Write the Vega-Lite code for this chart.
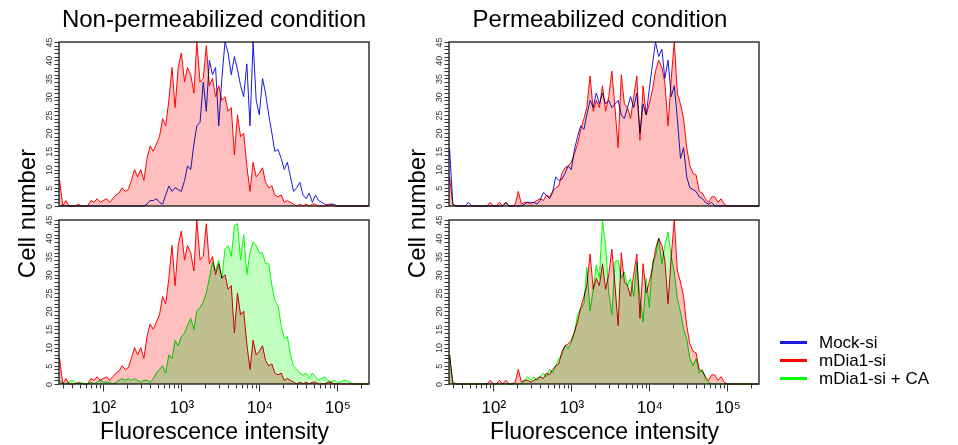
{
"$schema": "https://vega.github.io/schema/vega-lite/v6.json",
"padding": {"left": 14, "top": 7, "right": 0, "bottom": 0},
"datasets": {
"np": [
{"x":27.5,"Mock-si":0,"mDia1-si":7,"mDia1-si + CA":1},
{"x":30.2,"Mock-si":0,"mDia1-si":0,"mDia1-si + CA":0},
{"x":33.1,"Mock-si":0,"mDia1-si":1.5,"mDia1-si + CA":0},
{"x":36.3,"Mock-si":0,"mDia1-si":0,"mDia1-si + CA":0.5},
{"x":39.8,"Mock-si":0,"mDia1-si":0,"mDia1-si + CA":1},
{"x":43.7,"Mock-si":0,"mDia1-si":0,"mDia1-si + CA":0.5},
{"x":47.9,"Mock-si":0,"mDia1-si":0.5,"mDia1-si + CA":0},
{"x":52.5,"Mock-si":0,"mDia1-si":0,"mDia1-si + CA":0.5},
{"x":57.5,"Mock-si":0,"mDia1-si":0,"mDia1-si + CA":0},
{"x":63.1,"Mock-si":0,"mDia1-si":0,"mDia1-si + CA":0},
{"x":69.2,"Mock-si":0,"mDia1-si":1.5,"mDia1-si + CA":0.5},
{"x":75.9,"Mock-si":0,"mDia1-si":1,"mDia1-si + CA":0},
{"x":83.2,"Mock-si":0,"mDia1-si":2,"mDia1-si + CA":0.5},
{"x":91.2,"Mock-si":0,"mDia1-si":1,"mDia1-si + CA":1},
{"x":100,"Mock-si":0,"mDia1-si":1.5,"mDia1-si + CA":0.5},
{"x":110,"Mock-si":0,"mDia1-si":2,"mDia1-si + CA":0.5},
{"x":120,"Mock-si":0,"mDia1-si":1,"mDia1-si + CA":0.5},
{"x":132,"Mock-si":0,"mDia1-si":2,"mDia1-si + CA":0},
{"x":145,"Mock-si":0,"mDia1-si":3,"mDia1-si + CA":0.5},
{"x":158,"Mock-si":0,"mDia1-si":3.5,"mDia1-si + CA":1},
{"x":174,"Mock-si":0,"mDia1-si":5,"mDia1-si + CA":1.5},
{"x":191,"Mock-si":0,"mDia1-si":4,"mDia1-si + CA":1},
{"x":209,"Mock-si":0,"mDia1-si":4.5,"mDia1-si + CA":1.5},
{"x":229,"Mock-si":0,"mDia1-si":7,"mDia1-si + CA":1},
{"x":251,"Mock-si":0,"mDia1-si":10,"mDia1-si + CA":1.5},
{"x":275,"Mock-si":0,"mDia1-si":8,"mDia1-si + CA":1},
{"x":302,"Mock-si":0,"mDia1-si":10,"mDia1-si + CA":0.5},
{"x":331,"Mock-si":0,"mDia1-si":7,"mDia1-si + CA":1},
{"x":363,"Mock-si":0.5,"mDia1-si":13,"mDia1-si + CA":1},
{"x":398,"Mock-si":1.5,"mDia1-si":16.5,"mDia1-si + CA":0.5},
{"x":437,"Mock-si":1.5,"mDia1-si":15,"mDia1-si + CA":1.5},
{"x":479,"Mock-si":2,"mDia1-si":17,"mDia1-si + CA":3},
{"x":525,"Mock-si":1,"mDia1-si":19,"mDia1-si + CA":4},
{"x":575,"Mock-si":0.5,"mDia1-si":24,"mDia1-si + CA":5},
{"x":631,"Mock-si":3,"mDia1-si":22,"mDia1-si + CA":3},
{"x":692,"Mock-si":5.5,"mDia1-si":29,"mDia1-si + CA":8},
{"x":759,"Mock-si":4,"mDia1-si":38,"mDia1-si + CA":7},
{"x":832,"Mock-si":5,"mDia1-si":27,"mDia1-si + CA":12},
{"x":912,"Mock-si":4.5,"mDia1-si":38,"mDia1-si + CA":10.5},
{"x":1000,"Mock-si":4,"mDia1-si":42,"mDia1-si + CA":13},
{"x":1100,"Mock-si":7,"mDia1-si":34,"mDia1-si + CA":14},
{"x":1200,"Mock-si":11,"mDia1-si":38,"mDia1-si + CA":16},
{"x":1320,"Mock-si":10,"mDia1-si":36,"mDia1-si + CA":18},
{"x":1450,"Mock-si":17,"mDia1-si":31,"mDia1-si + CA":15},
{"x":1580,"Mock-si":22,"mDia1-si":45,"mDia1-si + CA":20},
{"x":1740,"Mock-si":23,"mDia1-si":34,"mDia1-si + CA":21},
{"x":1910,"Mock-si":34,"mDia1-si":35,"mDia1-si + CA":22.5},
{"x":2090,"Mock-si":26,"mDia1-si":44,"mDia1-si + CA":25},
{"x":2290,"Mock-si":40,"mDia1-si":33,"mDia1-si + CA":29},
{"x":2510,"Mock-si":36,"mDia1-si":35,"mDia1-si + CA":33.5},
{"x":2750,"Mock-si":38,"mDia1-si":30,"mDia1-si + CA":31},
{"x":3020,"Mock-si":22,"mDia1-si":33,"mDia1-si + CA":34},
{"x":3310,"Mock-si":35,"mDia1-si":29,"mDia1-si + CA":29},
{"x":3630,"Mock-si":45,"mDia1-si":30,"mDia1-si + CA":37},
{"x":3980,"Mock-si":42,"mDia1-si":26,"mDia1-si + CA":38},
{"x":4370,"Mock-si":36,"mDia1-si":27,"mDia1-si + CA":35},
{"x":4790,"Mock-si":41,"mDia1-si":14,"mDia1-si + CA":43.5},
{"x":5250,"Mock-si":37.5,"mDia1-si":25,"mDia1-si + CA":44},
{"x":5750,"Mock-si":33,"mDia1-si":19,"mDia1-si + CA":34},
{"x":6310,"Mock-si":30,"mDia1-si":20,"mDia1-si + CA":41},
{"x":6920,"Mock-si":39,"mDia1-si":11,"mDia1-si + CA":30},
{"x":7590,"Mock-si":22,"mDia1-si":4,"mDia1-si + CA":36},
{"x":8320,"Mock-si":45,"mDia1-si":12,"mDia1-si + CA":39},
{"x":9120,"Mock-si":29,"mDia1-si":8,"mDia1-si + CA":38},
{"x":10000,"Mock-si":25,"mDia1-si":9,"mDia1-si + CA":36},
{"x":11000,"Mock-si":35,"mDia1-si":10.5,"mDia1-si + CA":36},
{"x":12000,"Mock-si":31,"mDia1-si":6.5,"mDia1-si + CA":33},
{"x":13200,"Mock-si":25,"mDia1-si":5,"mDia1-si + CA":33},
{"x":14500,"Mock-si":20,"mDia1-si":5.5,"mDia1-si + CA":27},
{"x":15800,"Mock-si":15,"mDia1-si":3,"mDia1-si + CA":23},
{"x":17400,"Mock-si":15.5,"mDia1-si":2.5,"mDia1-si + CA":21.5},
{"x":19100,"Mock-si":13,"mDia1-si":3,"mDia1-si + CA":16},
{"x":20900,"Mock-si":10,"mDia1-si":1,"mDia1-si + CA":12.5},
{"x":22900,"Mock-si":12,"mDia1-si":1.5,"mDia1-si + CA":13},
{"x":25100,"Mock-si":8,"mDia1-si":1,"mDia1-si + CA":8},
{"x":27500,"Mock-si":4,"mDia1-si":0.5,"mDia1-si + CA":5},
{"x":30200,"Mock-si":5,"mDia1-si":0,"mDia1-si + CA":4},
{"x":33100,"Mock-si":6.5,"mDia1-si":0.5,"mDia1-si + CA":3},
{"x":36300,"Mock-si":3,"mDia1-si":0,"mDia1-si + CA":2.4},
{"x":39800,"Mock-si":2,"mDia1-si":0.5,"mDia1-si + CA":3},
{"x":43700,"Mock-si":3.5,"mDia1-si":0,"mDia1-si + CA":1.5},
{"x":47900,"Mock-si":1,"mDia1-si":0.5,"mDia1-si + CA":3},
{"x":52500,"Mock-si":3,"mDia1-si":0.5,"mDia1-si + CA":2},
{"x":57500,"Mock-si":1.5,"mDia1-si":0,"mDia1-si + CA":1},
{"x":63100,"Mock-si":1,"mDia1-si":0,"mDia1-si + CA":1.5},
{"x":69200,"Mock-si":0.5,"mDia1-si":0,"mDia1-si + CA":2},
{"x":75900,"Mock-si":0,"mDia1-si":0.5,"mDia1-si + CA":1},
{"x":83200,"Mock-si":0.5,"mDia1-si":0.5,"mDia1-si + CA":0.5},
{"x":91200,"Mock-si":0.5,"mDia1-si":0,"mDia1-si + CA":1},
{"x":100000,"Mock-si":0,"mDia1-si":0,"mDia1-si + CA":0.5},
{"x":110000,"Mock-si":0,"mDia1-si":0,"mDia1-si + CA":0.5},
{"x":120000,"Mock-si":0,"mDia1-si":0,"mDia1-si + CA":1},
{"x":132000,"Mock-si":0,"mDia1-si":0,"mDia1-si + CA":1},
{"x":145000,"Mock-si":0,"mDia1-si":0,"mDia1-si + CA":0.5},
{"x":158000,"Mock-si":0,"mDia1-si":0,"mDia1-si + CA":0},
{"x":174000,"Mock-si":0,"mDia1-si":0,"mDia1-si + CA":0},
{"x":191000,"Mock-si":0,"mDia1-si":0,"mDia1-si + CA":0},
{"x":209000,"Mock-si":0,"mDia1-si":0,"mDia1-si + CA":0},
{"x":229000,"Mock-si":0,"mDia1-si":0,"mDia1-si + CA":0},
{"x":251000,"Mock-si":0,"mDia1-si":0,"mDia1-si + CA":0}
],
"p": [
{"x":27.5,"Mock-si":15.6,"mDia1-si":8,"mDia1-si + CA":8},
{"x":30.2,"Mock-si":0.5,"mDia1-si":0.5,"mDia1-si + CA":0},
{"x":33.1,"Mock-si":0,"mDia1-si":0,"mDia1-si + CA":0},
{"x":36.3,"Mock-si":0,"mDia1-si":0,"mDia1-si + CA":0},
{"x":39.8,"Mock-si":0,"mDia1-si":0,"mDia1-si + CA":0},
{"x":43.7,"Mock-si":0,"mDia1-si":0,"mDia1-si + CA":0},
{"x":47.9,"Mock-si":1,"mDia1-si":0,"mDia1-si + CA":0},
{"x":52.5,"Mock-si":0,"mDia1-si":0,"mDia1-si + CA":0},
{"x":57.5,"Mock-si":0,"mDia1-si":0,"mDia1-si + CA":0},
{"x":63.1,"Mock-si":0,"mDia1-si":0,"mDia1-si + CA":0},
{"x":69.2,"Mock-si":0,"mDia1-si":0,"mDia1-si + CA":0},
{"x":75.9,"Mock-si":0,"mDia1-si":0,"mDia1-si + CA":0},
{"x":83.2,"Mock-si":0,"mDia1-si":0,"mDia1-si + CA":0},
{"x":91.2,"Mock-si":0,"mDia1-si":1,"mDia1-si + CA":0},
{"x":100,"Mock-si":0,"mDia1-si":0,"mDia1-si + CA":0},
{"x":110,"Mock-si":0,"mDia1-si":0,"mDia1-si + CA":0},
{"x":120,"Mock-si":0,"mDia1-si":1,"mDia1-si + CA":0},
{"x":132,"Mock-si":0,"mDia1-si":0,"mDia1-si + CA":0},
{"x":145,"Mock-si":1,"mDia1-si":1,"mDia1-si + CA":0},
{"x":158,"Mock-si":0,"mDia1-si":0,"mDia1-si + CA":0},
{"x":174,"Mock-si":0,"mDia1-si":0,"mDia1-si + CA":0},
{"x":191,"Mock-si":0,"mDia1-si":0.5,"mDia1-si + CA":0},
{"x":209,"Mock-si":0,"mDia1-si":4,"mDia1-si + CA":0},
{"x":229,"Mock-si":0,"mDia1-si":0.5,"mDia1-si + CA":0},
{"x":251,"Mock-si":0.5,"mDia1-si":1,"mDia1-si + CA":1},
{"x":275,"Mock-si":1,"mDia1-si":1,"mDia1-si + CA":2},
{"x":302,"Mock-si":1,"mDia1-si":0.5,"mDia1-si + CA":1},
{"x":331,"Mock-si":1,"mDia1-si":1,"mDia1-si + CA":2},
{"x":363,"Mock-si":0.5,"mDia1-si":1.5,"mDia1-si + CA":1},
{"x":398,"Mock-si":1.5,"mDia1-si":2,"mDia1-si + CA":2},
{"x":437,"Mock-si":3.7,"mDia1-si":1.5,"mDia1-si + CA":3},
{"x":479,"Mock-si":3,"mDia1-si":3,"mDia1-si + CA":2},
{"x":525,"Mock-si":2,"mDia1-si":2.5,"mDia1-si + CA":4},
{"x":575,"Mock-si":3.7,"mDia1-si":4,"mDia1-si + CA":3},
{"x":631,"Mock-si":8,"mDia1-si":5,"mDia1-si + CA":5},
{"x":692,"Mock-si":7,"mDia1-si":5.5,"mDia1-si + CA":7},
{"x":759,"Mock-si":7.4,"mDia1-si":9,"mDia1-si + CA":8},
{"x":832,"Mock-si":9,"mDia1-si":10.5,"mDia1-si + CA":10.6},
{"x":912,"Mock-si":11,"mDia1-si":11,"mDia1-si + CA":9.7},
{"x":1000,"Mock-si":10,"mDia1-si":12,"mDia1-si + CA":11.5},
{"x":1100,"Mock-si":15.6,"mDia1-si":14.5,"mDia1-si + CA":14},
{"x":1200,"Mock-si":19,"mDia1-si":17,"mDia1-si + CA":19},
{"x":1320,"Mock-si":22,"mDia1-si":21,"mDia1-si + CA":20.7},
{"x":1450,"Mock-si":21,"mDia1-si":24,"mDia1-si + CA":22},
{"x":1580,"Mock-si":25,"mDia1-si":27,"mDia1-si + CA":32},
{"x":1740,"Mock-si":29,"mDia1-si":35.7,"mDia1-si + CA":20},
{"x":1910,"Mock-si":27,"mDia1-si":26,"mDia1-si + CA":26},
{"x":2090,"Mock-si":31,"mDia1-si":29,"mDia1-si + CA":32.6},
{"x":2290,"Mock-si":28,"mDia1-si":27,"mDia1-si + CA":29},
{"x":2510,"Mock-si":31,"mDia1-si":33,"mDia1-si + CA":45},
{"x":2750,"Mock-si":28,"mDia1-si":26,"mDia1-si + CA":38},
{"x":3020,"Mock-si":29,"mDia1-si":30,"mDia1-si + CA":25},
{"x":3310,"Mock-si":27,"mDia1-si":37,"mDia1-si + CA":19},
{"x":3630,"Mock-si":28,"mDia1-si":27,"mDia1-si + CA":33.5},
{"x":3980,"Mock-si":29,"mDia1-si":16,"mDia1-si + CA":34},
{"x":4370,"Mock-si":25,"mDia1-si":36,"mDia1-si + CA":29},
{"x":4790,"Mock-si":24,"mDia1-si":28,"mDia1-si + CA":30.7},
{"x":5250,"Mock-si":27,"mDia1-si":27,"mDia1-si + CA":27},
{"x":5750,"Mock-si":30,"mDia1-si":24,"mDia1-si + CA":29},
{"x":6310,"Mock-si":27,"mDia1-si":30,"mDia1-si + CA":24},
{"x":6920,"Mock-si":31,"mDia1-si":35.7,"mDia1-si + CA":33.5},
{"x":7590,"Mock-si":20,"mDia1-si":18,"mDia1-si + CA":24},
{"x":8320,"Mock-si":28,"mDia1-si":33,"mDia1-si + CA":17},
{"x":9120,"Mock-si":25,"mDia1-si":25,"mDia1-si + CA":29},
{"x":10000,"Mock-si":32,"mDia1-si":28,"mDia1-si + CA":21},
{"x":11000,"Mock-si":39,"mDia1-si":32,"mDia1-si + CA":33.5},
{"x":12000,"Mock-si":45,"mDia1-si":37,"mDia1-si + CA":35},
{"x":13200,"Mock-si":41,"mDia1-si":40,"mDia1-si + CA":40},
{"x":14500,"Mock-si":43,"mDia1-si":38,"mDia1-si + CA":33},
{"x":15800,"Mock-si":35,"mDia1-si":34,"mDia1-si + CA":38},
{"x":17400,"Mock-si":40,"mDia1-si":22,"mDia1-si + CA":41.7},
{"x":19100,"Mock-si":30,"mDia1-si":35,"mDia1-si + CA":35},
{"x":20900,"Mock-si":33,"mDia1-si":45,"mDia1-si + CA":30.7},
{"x":22900,"Mock-si":24,"mDia1-si":31,"mDia1-si + CA":23.4},
{"x":25100,"Mock-si":13,"mDia1-si":28,"mDia1-si + CA":19.8},
{"x":27500,"Mock-si":16,"mDia1-si":24,"mDia1-si + CA":15},
{"x":30200,"Mock-si":8,"mDia1-si":16,"mDia1-si + CA":12.4},
{"x":33100,"Mock-si":5,"mDia1-si":11,"mDia1-si + CA":7},
{"x":36300,"Mock-si":4.5,"mDia1-si":9,"mDia1-si + CA":5},
{"x":39800,"Mock-si":4,"mDia1-si":8.5,"mDia1-si + CA":7},
{"x":43700,"Mock-si":2.5,"mDia1-si":4,"mDia1-si + CA":3},
{"x":47900,"Mock-si":2,"mDia1-si":3.5,"mDia1-si + CA":4},
{"x":52500,"Mock-si":1,"mDia1-si":2,"mDia1-si + CA":1.5},
{"x":57500,"Mock-si":0.5,"mDia1-si":1,"mDia1-si + CA":0.5},
{"x":63100,"Mock-si":1,"mDia1-si":2.5,"mDia1-si + CA":0},
{"x":69200,"Mock-si":0,"mDia1-si":2.5,"mDia1-si + CA":0},
{"x":75900,"Mock-si":0,"mDia1-si":1,"mDia1-si + CA":0},
{"x":83200,"Mock-si":0,"mDia1-si":2,"mDia1-si + CA":0},
{"x":91200,"Mock-si":0,"mDia1-si":0.5,"mDia1-si + CA":0},
{"x":100000,"Mock-si":0,"mDia1-si":0,"mDia1-si + CA":0},
{"x":110000,"Mock-si":0,"mDia1-si":0,"mDia1-si + CA":0},
{"x":120000,"Mock-si":0,"mDia1-si":0,"mDia1-si + CA":0},
{"x":132000,"Mock-si":0,"mDia1-si":0,"mDia1-si + CA":0},
{"x":145000,"Mock-si":0,"mDia1-si":0,"mDia1-si + CA":0},
{"x":158000,"Mock-si":0,"mDia1-si":0,"mDia1-si + CA":0},
{"x":174000,"Mock-si":0,"mDia1-si":0,"mDia1-si + CA":0},
{"x":191000,"Mock-si":0,"mDia1-si":0,"mDia1-si + CA":0},
{"x":209000,"Mock-si":0,"mDia1-si":0,"mDia1-si + CA":0},
{"x":229000,"Mock-si":0,"mDia1-si":0,"mDia1-si + CA":0},
{"x":251000,"Mock-si":0,"mDia1-si":0,"mDia1-si + CA":0}
]
},
"hconcat": [
{
"vconcat": [
{
"width": 310, "height": 164,
"data": {"name": "np"},
"title": {"text": "Non-permeabilized condition", "fontSize": 24, "fontWeight": "normal", "frame": "group", "anchor": "middle", "offset": 5, "color": "#000"},
"transform": [{"fold": ["Mock-si", "mDia1-si"], "as": ["series", "count"]}],
"encoding": {
"x": {"field": "x", "type": "quantitative", "scale": {"type": "log", "domain": [27, 255000], "nice": false}, "axis": null},
"y": {"field": "count", "type": "quantitative", "stack": null, "scale": {"domain": [0, 45], "nice": false, "zero": true},
"axis": {"values": [0,1,2,3,4,5,6,7,8,9,10,11,12,13,14,15,16,17,18,19,20,21,22,23,24,25,26,27,28,29,30,31,32,33,34,35,36,37,38,39,40,41,42,43,44,45], "labelExpr": "datum.value % 5 === 0 ? datum.label : ''", "title": "Cell number", "titleY": 171}}
},
"layer": [
{"transform": [{"filter": "datum.series !== 'Mock-si'"}], "mark": {"type": "area", "blend": "multiply"}, "encoding": {"fill": {"field": "series", "type": "nominal", "scale": {"domain": ["mDia1-si", "mDia1-si + CA"], "range": ["#ffbfbf", "#c0ffc0"]}, "legend": null}}},
{"mark": {"type": "line", "blend": "multiply", "strokeWidth": 1}, "encoding": {"color": {"field": "series", "type": "nominal", "scale": {"domain": ["Mock-si", "mDia1-si", "mDia1-si + CA"], "range": ["#1a1ae0", "#ff0000", "#00ff00"]}, "legend": {"title": null, "orient": "none", "legendX": 726, "legendY": 292, "symbolType": "M-3,0H3", "symbolSize": 81, "symbolStrokeWidth": 3, "labelFontSize": 17, "labelOffset": 17, "rowPadding": 0, "labelColor": "#000"}}}}
]
},
{
"width": 310, "height": 164,
"data": {"name": "np"},
"transform": [{"fold": ["mDia1-si", "mDia1-si + CA"], "as": ["series", "count"]}],
"encoding": {
"x": {"field": "x", "type": "quantitative", "scale": {"type": "log", "domain": [27, 255000], "nice": false},
"axis": {"values": [30,40,50,60,70,80,90,100,200,300,400,500,600,700,800,900,1000,2000,3000,4000,5000,6000,7000,8000,9000,10000,20000,30000,40000,50000,60000,70000,80000,90000,100000,200000], "labelExpr": "datum.value === 100 ? '10²' : datum.value === 1000 ? '10³' : datum.value === 10000 ? '10⁴' : datum.value === 100000 ? '10⁵' : ''", "tickSize": {"condition": {"test": "datum.value === 100 || datum.value === 1000 || datum.value === 10000 || datum.value === 100000", "value": 7}, "value": 4}, "labelPadding": 8, "titlePadding": 5, "titleFontSize": 23, "title": "Fluorescence intensity"}},
"y": {"field": "count", "type": "quantitative", "stack": null, "scale": {"domain": [0, 45], "nice": false, "zero": true},
"axis": {"values": [0,1,2,3,4,5,6,7,8,9,10,11,12,13,14,15,16,17,18,19,20,21,22,23,24,25,26,27,28,29,30,31,32,33,34,35,36,37,38,39,40,41,42,43,44,45], "labelExpr": "datum.value % 5 === 0 ? datum.label : ''", "title": null}}
},
"layer": [
{"mark": {"type": "area", "blend": "multiply"}, "encoding": {"fill": {"field": "series", "type": "nominal", "scale": {"domain": ["mDia1-si", "mDia1-si + CA"], "range": ["#ffbfbf", "#c0ffc0"]}, "legend": null}}},
{"mark": {"type": "line", "blend": "multiply", "strokeWidth": 1}, "encoding": {"color": {"field": "series", "type": "nominal", "scale": {"domain": ["Mock-si", "mDia1-si", "mDia1-si + CA"], "range": ["#1a1ae0", "#ff0000", "#00ff00"]}, "legend": {"title": null, "orient": "none", "legendX": 726, "legendY": 292, "symbolType": "M-3,0H3", "symbolSize": 81, "symbolStrokeWidth": 3, "labelFontSize": 17, "labelOffset": 17, "rowPadding": 0, "labelColor": "#000"}}}}
]
}
],
"spacing": 14,
"bounds": "flush"
},
{
"vconcat": [
{
"width": 310, "height": 164,
"data": {"name": "p"},
"title": {"text": "Permeabilized condition", "fontSize": 24, "fontWeight": "normal", "frame": "group", "anchor": "middle", "offset": 5, "dx": -4, "color": "#000"},
"transform": [{"fold": ["Mock-si", "mDia1-si"], "as": ["series", "count"]}],
"encoding": {
"x": {"field": "x", "type": "quantitative", "scale": {"type": "log", "domain": [27, 255000], "nice": false}, "axis": null},
"y": {"field": "count", "type": "quantitative", "stack": null, "scale": {"domain": [0, 45], "nice": false, "zero": true},
"axis": {"values": [0,1,2,3,4,5,6,7,8,9,10,11,12,13,14,15,16,17,18,19,20,21,22,23,24,25,26,27,28,29,30,31,32,33,34,35,36,37,38,39,40,41,42,43,44,45], "labelExpr": "datum.value % 5 === 0 ? datum.label : ''", "title": "Cell number", "titleY": 171}}
},
"layer": [
{"transform": [{"filter": "datum.series !== 'Mock-si'"}], "mark": {"type": "area", "blend": "multiply"}, "encoding": {"fill": {"field": "series", "type": "nominal", "scale": {"domain": ["mDia1-si", "mDia1-si + CA"], "range": ["#ffbfbf", "#c0ffc0"]}, "legend": null}}},
{"mark": {"type": "line", "blend": "multiply", "strokeWidth": 1}, "encoding": {"color": {"field": "series", "type": "nominal", "scale": {"domain": ["Mock-si", "mDia1-si", "mDia1-si + CA"], "range": ["#1a1ae0", "#ff0000", "#00ff00"]}, "legend": {"title": null, "orient": "none", "legendX": 726, "legendY": 292, "symbolType": "M-3,0H3", "symbolSize": 81, "symbolStrokeWidth": 3, "labelFontSize": 17, "labelOffset": 17, "rowPadding": 0, "labelColor": "#000"}}}}
]
},
{
"width": 310, "height": 164,
"data": {"name": "p"},
"transform": [{"fold": ["mDia1-si", "mDia1-si + CA"], "as": ["series", "count"]}],
"encoding": {
"x": {"field": "x", "type": "quantitative", "scale": {"type": "log", "domain": [27, 255000], "nice": false},
"axis": {"values": [30,40,50,60,70,80,90,100,200,300,400,500,600,700,800,900,1000,2000,3000,4000,5000,6000,7000,8000,9000,10000,20000,30000,40000,50000,60000,70000,80000,90000,100000,200000], "labelExpr": "datum.value === 100 ? '10²' : datum.value === 1000 ? '10³' : datum.value === 10000 ? '10⁴' : datum.value === 100000 ? '10⁵' : ''", "tickSize": {"condition": {"test": "datum.value === 100 || datum.value === 1000 || datum.value === 10000 || datum.value === 100000", "value": 7}, "value": 4}, "labelPadding": 8, "titlePadding": 5, "titleFontSize": 23, "title": "Fluorescence intensity"}},
"y": {"field": "count", "type": "quantitative", "stack": null, "scale": {"domain": [0, 45], "nice": false, "zero": true},
"axis": {"values": [0,1,2,3,4,5,6,7,8,9,10,11,12,13,14,15,16,17,18,19,20,21,22,23,24,25,26,27,28,29,30,31,32,33,34,35,36,37,38,39,40,41,42,43,44,45], "labelExpr": "datum.value % 5 === 0 ? datum.label : ''", "title": null}}
},
"layer": [
{"mark": {"type": "area", "blend": "multiply"}, "encoding": {"fill": {"field": "series", "type": "nominal", "scale": {"domain": ["mDia1-si", "mDia1-si + CA"], "range": ["#ffbfbf", "#c0ffc0"]}, "legend": null}}},
{"mark": {"type": "line", "blend": "multiply", "strokeWidth": 1}, "encoding": {"color": {"field": "series", "type": "nominal", "scale": {"domain": ["Mock-si", "mDia1-si", "mDia1-si + CA"], "range": ["#1a1ae0", "#ff0000", "#00ff00"]}, "legend": {"title": null, "orient": "none", "legendX": 726, "legendY": 292, "symbolType": "M-3,0H3", "symbolSize": 81, "symbolStrokeWidth": 3, "labelFontSize": 17, "labelOffset": 17, "rowPadding": 0, "labelColor": "#000"}}}}
]
}
],
"spacing": 14,
"bounds": "flush"
}
],
"spacing": 32,
"resolve": {"scale": {"color": "shared", "fill": "shared"}},
"config": {
"font": "Liberation Sans",
"view": {"stroke": "#333333", "strokeWidth": 1.5},
"axis": {"domain": false, "grid": false, "labelColor": "#000", "titleColor": "#000", "titleFontWeight": "normal", "titleFontSize": 24, "tickColor": "#333333", "labelOverlap": false, "labelFlush": false, "labelFontSize": 17, "labelPadding": 3, "titlePadding": 4},
"axisY": {"labelAngle": 270, "labelAlign": "center", "labelBaseline": "bottom", "labelFontSize": 9, "labelColor": "#333333", "labelPadding": 1, "tickSize": 5, "titlePadding": 5}
}
}
